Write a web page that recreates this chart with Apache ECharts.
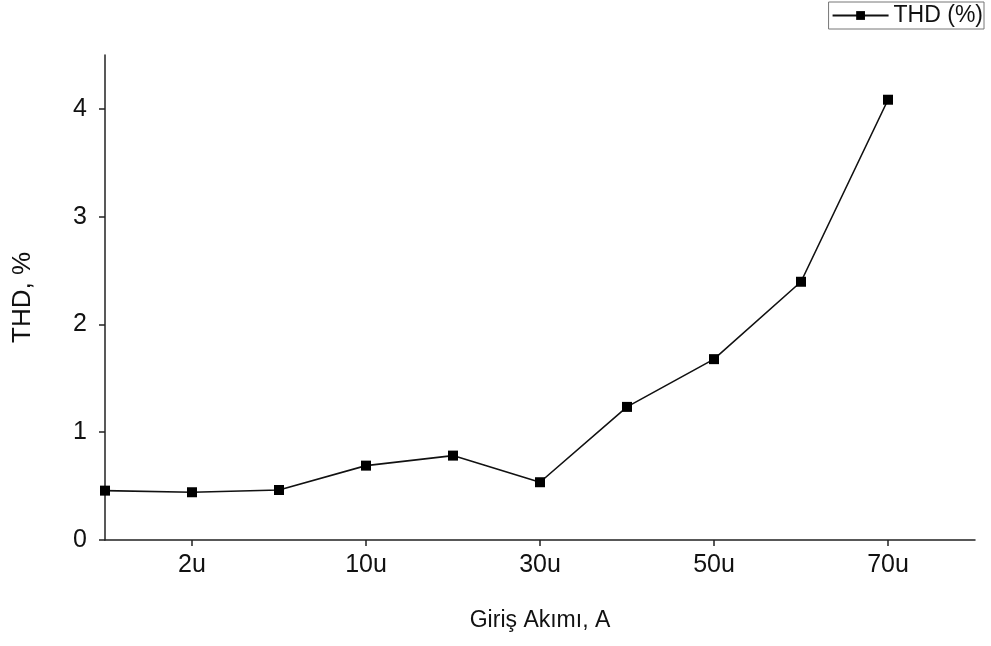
<!DOCTYPE html>
<html>
<head>
<meta charset="utf-8">
<script src="https://cdn.jsdelivr.net/npm/echarts@6/dist/echarts.min.js"></script>
<style>
  html, body { margin: 0; padding: 0; background: #fff; }
  #chart { width: 991px; height: 646px; }
</style>
</head>
<body>
<div id="chart"></div>
<script>
// x categories: only every other position carries a label
const categories = ['', '2u', '', '10u', '', '30u', '', '50u', '', '70u', ''];
// THD readings (%) for the first ten positions
const thdValues = [0.458, 0.443, 0.464, 0.690, 0.783, 0.536, 1.235, 1.678, 2.396, 4.085];
const yTicks = [0, 1, 2, 3, 4];

const font = 'Liberation Sans, Arial, sans-serif';
const chart = echarts.init(document.getElementById('chart'), null, { renderer: 'canvas' });

chart.setOption({
  backgroundColor: '#ffffff',
  animation: false,
  grid: { left: 105, right: 16, top: 55, bottom: 106 },
  legend: {
    data: ['THD (%)'],
    right: 7,
    top: 2,
    itemWidth: 56,
    itemHeight: 11,
    padding: [2, 1, 2, 3],
    borderColor: '#777',
    borderWidth: 1,
    textStyle: { fontFamily: font, fontSize: 23, color: '#111' }
  },
  xAxis: {
    type: 'category',
    data: categories,
    boundaryGap: false,
    name: 'Giriş Akımı, A',
    nameLocation: 'middle',
    nameGap: 69,
    nameTextStyle: { fontFamily: font, fontSize: 23, color: '#111' },
    axisLine: { lineStyle: { color: '#222', width: 1.5 } },
    axisTick: {
      inside: false,
      length: 6,
      interval: (idx, val) => val !== '',
      lineStyle: { color: '#222', width: 1.5 }
    },
    axisLabel: {
      interval: 0,
      margin: 13,
      fontFamily: font, fontSize: 25, color: '#111'
    },
    splitLine: { show: false }
  },
  yAxis: {
    type: 'value',
    min: 0,
    max: 4.5,
    name: 'THD, %',
    nameLocation: 'middle',
    nameGap: 69,
    nameTextStyle: { fontFamily: font, fontSize: 26, color: '#111' },
    axisLine: { show: true, lineStyle: { color: '#222', width: 1.5 } },
    axisTick: {
      show: true,
      length: 6,
      customValues: yTicks,
      lineStyle: { color: '#222', width: 1.5 }
    },
    axisLabel: {
      customValues: yTicks,
      margin: 18,
      fontFamily: font, fontSize: 25, color: '#111'
    },
    splitLine: { show: false }
  },
  series: [{
    name: 'THD (%)',
    type: 'line',
    data: thdValues,
    symbol: 'rect',
    symbolSize: 10,
    color: '#000',
    lineStyle: { color: '#111', width: 1.6 },
    itemStyle: { color: '#000' }
  }]
});
</script>
</body>
</html>
